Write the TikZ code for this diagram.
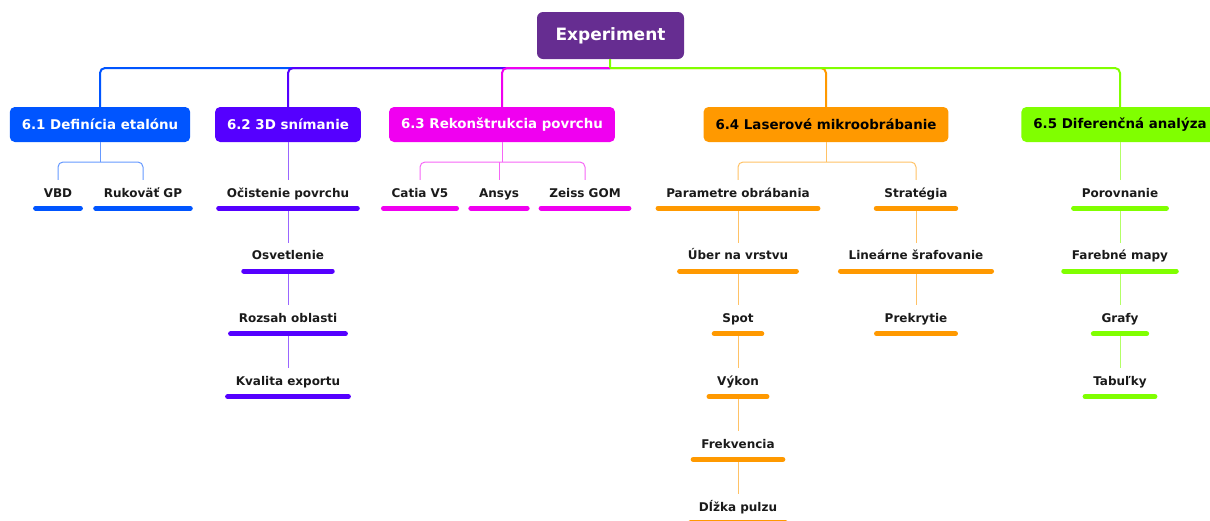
\documentclass[tikz,border=0pt]{standalone}
\usepackage{fontspec}
\setmainfont{DejaVu Sans}
\usepackage{tikz}
\usetikzlibrary{chains,positioning}
\definecolor{rootcol}{HTML}{662D91}
\definecolor{defcol}{HTML}{0055FF}
\definecolor{scancol}{HTML}{5500FF}
\definecolor{reccol}{HTML}{F000F0}
\definecolor{lascol}{HTML}{FF9900}
\definecolor{difcol}{HTML}{80FF00}
\definecolor{txtcol}{HTML}{1A1A1A}

\begin{document}
\begin{tikzpicture}[
x=1pt,y=-1pt,
root/.style={
  rectangle,
  rounded corners=6pt,
  fill=rootcol,
  text=white,
  font=\fontsize{17}{20}\selectfont\bfseries,
  minimum width=147pt,
  minimum height=47pt
},
topic/.style={
  rectangle,
  rounded corners=5pt,
  fill=#1,
  inner xsep=12pt,
  minimum height=35pt,
  font=\fontsize{13.4}{16}\selectfont\bfseries
},
leaf/.style={
  inner xsep=8pt,
  inner ysep=0pt,
  minimum height=28pt,
  text height=9pt,
  text depth=3pt,
  text=txtcol,
  font=\fontsize{12}{14}\selectfont\bfseries
},
trunk/.style={draw=#1,line width=2pt,rounded corners=5pt},
twig/.style={draw=#1!60,line width=1pt,rounded corners=5pt},
bar/.style={draw=#1,line width=5pt,line cap=round},
node distance=34.4pt
]
\useasboundingbox (0,0) rectangle (1210,520);

\node[root] (exp) at (610.5,35.5) {Experiment};
\node[topic=defcol,text=white] (def) at (100,124.5) {6.1 Definícia etalónu};
\node[topic=scancol,text=white] (scan) at (288,124.5) {6.2 3D snímanie};
\node[topic=reccol,text=white] (rec) at (502,124.5) {6.3 Rekonštrukcia povrchu};
\node[topic=lascol,text=black] (las) at (826,124.5) {6.4 Laserové mikroobrábanie};
\node[topic=difcol,text=black] (dif) at (1120,124.5) {6.5 Diferenčná analýza};

\coordinate (bus) at (610,68);
\draw[trunk=defcol] (bus) -| (def);
\draw[trunk=scancol] (bus) -| (scan);
\draw[trunk=reccol] (bus) -| (rec);
\draw[trunk=lascol] (bus) -| (las);
\draw[trunk=difcol] (bus) -| (dif);
\draw[trunk=difcol] (exp) -- (bus);

\node[leaf] (vbd) at (58,194) {VBD};
\node[leaf] (gp) at (143,194) {Rukoväť GP};

\begin{scope}[start chain=scanning going below]
\node[leaf,on chain] at (288,194)
  (clean) {Očistenie povrchu};
\node[leaf,on chain,join=by {twig=scancol}]
  (light) {Osvetlenie};
\node[leaf,on chain,join=by {twig=scancol}]
  (area) {Rozsah oblasti};
\node[leaf,on chain,join=by {twig=scancol}]
  (export) {Kvalita exportu};
\end{scope}

\node[leaf] (catia) at (420,194) {Catia V5};
\node[leaf] (ansys) at (499,194) {Ansys};
\node[leaf] (zeiss) at (585,194) {Zeiss GOM};

\begin{scope}[start chain=params going below]
\node[leaf,on chain] at (738,194)
  (par) {Parametre obrábania};
\node[leaf,on chain,join=by {twig=lascol}]
  (layer) {Úber na vrstvu};
\node[leaf,on chain,join=by {twig=lascol}]
  (spot) {Spot};
\node[leaf,on chain,join=by {twig=lascol}]
  (power) {Výkon};
\node[leaf,on chain,join=by {twig=lascol}]
  (freq) {Frekvencia};
\node[leaf,on chain,join=by {twig=lascol}]
  (pulse) {Dĺžka pulzu};
\end{scope}

\begin{scope}[start chain=strategy going below]
\node[leaf,on chain] at (916,194)
  (strat) {Stratégia};
\node[leaf,on chain,join=by {twig=lascol}]
  (hatch) {Lineárne šrafovanie};
\node[leaf,on chain,join=by {twig=lascol}]
  (overlap) {Prekrytie};
\end{scope}

\begin{scope}[start chain=analysis going below]
\node[leaf,on chain] at (1120,194)
  (cmp) {Porovnanie};
\node[leaf,on chain,join=by {twig=difcol}]
  (maps) {Farebné mapy};
\node[leaf,on chain,join=by {twig=difcol}]
  (graphs) {Grafy};
\node[leaf,on chain,join=by {twig=difcol}]
  (tables) {Tabuľky};
\end{scope}

\coordinate (defsplit) at (100,162);
\coordinate (recsplit) at (502,162);
\coordinate (lassplit) at (826,162);

\draw[twig=defcol] (def) -- (defsplit);
\draw[twig=defcol] (vbd) |- (defsplit) -| (gp);
\draw[twig=scancol] (scan) -- (clean);
\draw[twig=reccol] (rec) -- (recsplit);
\draw[twig=reccol] (catia) |- (recsplit) -| (zeiss);
\draw[twig=reccol] (ansys) -- (ansys |- recsplit);
\draw[twig=lascol] (las) -- (lassplit);
\draw[twig=lascol] (par) |- (lassplit) -| (strat);
\draw[twig=difcol] (dif) -- (cmp);

\foreach \n/\col in {vbd/defcol,gp/defcol,
  clean/scancol,light/scancol,area/scancol,export/scancol,
  catia/reccol,ansys/reccol,zeiss/reccol,
  par/lascol,layer/lascol,spot/lascol,power/lascol,freq/lascol,pulse/lascol,
  strat/lascol,hatch/lascol,overlap/lascol,
  cmp/difcol,maps/difcol,graphs/difcol,tables/difcol}
  \draw[bar=\col] (\n.south west) -- (\n.south east);
\end{tikzpicture}
\end{document}
